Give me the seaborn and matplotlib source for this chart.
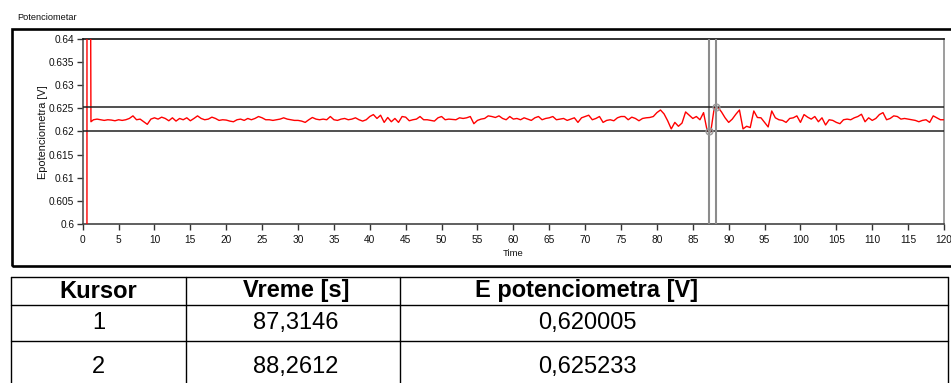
import numpy as np
import pandas as pd
import matplotlib
matplotlib.use("Agg")
import matplotlib.pyplot as plt
import seaborn as sns
from matplotlib.lines import Line2D
from matplotlib.patches import Rectangle

# ---------------- data ----------------
title = "Potenciometar"
x_label = "Time"
y_label = "Epotenciometra [V]"

# start-up transient (sensor switching on, clipped by the axis range)
startup_t = [0.55, 0.60, 1.00, 1.15]
startup_v = [0.0, 0.70, 0.70, 0.62211]

# steady-state waveform: t0, dt and sampled values [V]
wave_t0 = 1.5
wave_dt = 0.5
wave_v = [
    0.62254, 0.62268, 0.62254, 0.62240, 0.62254, 0.62247, 0.62232, 0.62254, 0.62240,
    0.62254, 0.62282, 0.62338, 0.62254, 0.62268, 0.62211, 0.62155, 0.62268, 0.62296, 0.62268,
    0.62310, 0.62282, 0.62232, 0.62296, 0.62225, 0.62282, 0.62254, 0.62296, 0.62232, 0.62282,
    0.62338, 0.62282, 0.62254, 0.62268, 0.62310, 0.62282, 0.62240, 0.62254, 0.62247, 0.62225,
    0.62211, 0.62254, 0.62268, 0.62240, 0.62282, 0.62254, 0.62282, 0.62324, 0.62296, 0.62254,
    0.62254, 0.62240, 0.62254, 0.62268, 0.62296, 0.62268, 0.62254, 0.62240, 0.62240, 0.62225,
    0.62197, 0.62254, 0.62303, 0.62268, 0.62254, 0.62268, 0.62254, 0.62324, 0.62254, 0.62240,
    0.62268, 0.62282, 0.62254, 0.62268, 0.62296, 0.62254, 0.62225, 0.62254, 0.62324, 0.62366,
    0.62282, 0.62352, 0.62197, 0.62303, 0.62211, 0.62282, 0.62197, 0.62324, 0.62310, 0.62232,
    0.62254, 0.62268, 0.62324, 0.62254, 0.62254, 0.62240, 0.62225, 0.62296, 0.62324, 0.62254,
    0.62268, 0.62261, 0.62254, 0.62296, 0.62282, 0.62296, 0.62324, 0.62169, 0.62240, 0.62268,
    0.62282, 0.62338, 0.62324, 0.62303, 0.62338, 0.62282, 0.62254, 0.62324, 0.62268, 0.62282,
    0.62254, 0.62296, 0.62268, 0.62240, 0.62296, 0.62324, 0.62254, 0.62282, 0.62296, 0.62324,
    0.62254, 0.62268, 0.62282, 0.62240, 0.62268, 0.62296, 0.62197, 0.62296, 0.62324, 0.62352,
    0.62254, 0.62282, 0.62324, 0.62197, 0.62240, 0.62254, 0.62232, 0.62296, 0.62324, 0.62324,
    0.62254, 0.62310, 0.62282, 0.62232, 0.62282, 0.62296, 0.62303, 0.62324, 0.62408, 0.62465,
    0.62380, 0.62232, 0.62056, 0.62197, 0.62113, 0.62183, 0.62423, 0.62352, 0.62282, 0.62324,
    0.62254, 0.62408, 0.62020, 0.61990, 0.62523, 0.62524, 0.62423, 0.62296, 0.62197, 0.62268,
    0.62373, 0.62465, 0.62056, 0.62113, 0.62085, 0.62444, 0.62303, 0.62296, 0.62197, 0.62099,
    0.62444, 0.62296, 0.62254, 0.62240, 0.62197, 0.62282, 0.62296, 0.62338, 0.62197, 0.62366,
    0.62310, 0.62268, 0.62324, 0.62211, 0.62296, 0.62141, 0.62254, 0.62240, 0.62197, 0.62169,
    0.62254, 0.62268, 0.62254, 0.62296, 0.62324, 0.62373, 0.62211, 0.62296, 0.62240, 0.62282,
    0.62366, 0.62408, 0.62254, 0.62282, 0.62338, 0.62324, 0.62268, 0.62282, 0.62268, 0.62254,
    0.62240, 0.62211, 0.62240, 0.62254, 0.62197, 0.62338, 0.62296, 0.62254, 0.62254,
]

x_ticks = [0, 5, 10, 15, 20, 25, 30, 35, 40, 45, 50, 55, 60, 65, 70, 75, 80, 85, 90, 95,
           100, 105, 110, 115, 120]
y_ticks = [0.6, 0.605, 0.61, 0.615, 0.62, 0.625, 0.63, 0.635, 0.64]
y_tick_labels = ["0.6", "0.605", "0.61", "0.615", "0.62", "0.625", "0.63", "0.635", "0.64"]

cursor_ids = ["1", "2"]
cursor_t = [87.3146, 88.2612]
cursor_v = [0.620005, 0.625233]
cursor_t_txt = ["87,3146", "88,2612"]
cursor_v_txt = ["0,620005", "0,625233"]
table_header = ["Kursor", "Vreme [s]", "E potenciometra [V]"]

# ---------------- figure ----------------
W, H = 951, 383
sns.set_theme(style="white")
plt.rcParams["font.family"] = ["Liberation Sans", "DejaVu Sans"]

fig = plt.figure(figsize=(W / 100, H / 100), dpi=100)
fig.patch.set_facecolor("white")


def fx(x):
    return x / W


def fy(y):
    return 1 - y / H


L, R, T, B = 82.7, 944.0, 39.0, 224.0
ax = fig.add_axes([fx(L), fy(B), fx(R) - fx(L), fy(T) - fy(B)])
ax.set_facecolor("white")

wave_t = wave_t0 + wave_dt * np.arange(len(wave_v))
df = pd.DataFrame({
    "Time": np.concatenate([startup_t, wave_t]),
    "E": np.concatenate([startup_v, wave_v]),
})
sns.lineplot(data=df, x="Time", y="E", color="#ff0000", linewidth=1.0,
             estimator=None, sort=False, ax=ax, zorder=3)

# cursors
for t, v in zip(cursor_t, cursor_v):
    ax.axvline(t, color="#8c8c8c", linewidth=1.5, zorder=4)
    ax.axhline(v, color="#202020", linewidth=1.1, zorder=4)
ax.plot(cursor_t, cursor_v, linestyle="none", marker="o", markersize=5,
        markerfacecolor="none", markeredgecolor="#9a9a9a", markeredgewidth=0.9, zorder=5)
ax.plot(cursor_t, cursor_v, linestyle="none", marker="x", markersize=3.5,
        markeredgecolor="#9a9a9a", markeredgewidth=0.9, zorder=5)

ax.set_xlim(0, 120)
ax.set_ylim(0.6, 0.64)
ax.set_xticks(x_ticks)
ax.set_xticklabels([str(v) for v in x_ticks])
ax.set_yticks(y_ticks)
ax.set_yticklabels(y_tick_labels)
ax.tick_params(axis="both", direction="out", length=4, width=1, color="#333333",
               labelsize=7.3, labelcolor="#111111", left=True, bottom=True)
ax.tick_params(axis="x", pad=4.0)
ax.tick_params(axis="y", pad=2.0)
ax.grid(False)

for side, col in [("left", "#555555"), ("bottom", "#444444"), ("top", "#111111"), ("right", "#8c8c8c")]:
    ax.spines[side].set_visible(True)
    ax.spines[side].set_color(col)
    ax.spines[side].set_linewidth(1.2)

ax.set_xlabel(x_label, fontsize=6.8, color="#111111")
ax.xaxis.set_label_coords(0.5, (B - 249.5) / (B - T))
ax.xaxis.label.set_va("top")
ax.set_ylabel(y_label, fontsize=7.9, color="#111111")
ax.yaxis.label.set_va("center")
ax.yaxis.set_label_coords((43.5 - L) / (R - L), 0.495)

fig.text(fx(17), fy(18), title, ha="left", va="center", fontsize=6.7, color="#111111")

# outer graph frame
fig.add_artist(Rectangle((fx(11.5), fy(265.5)), fx(960) - fx(11.5), fy(28.5) - fy(265.5),
                         transform=fig.transFigure, fill=False, lw=1.9, ec="black"))

# ---------------- table ----------------
col_x = [11, 186, 400, 948]
row_y = [277, 305, 341, 400]
for y in row_y[:3]:
    fig.add_artist(Line2D([fx(col_x[0]), fx(col_x[-1])], [fy(y), fy(y)],
                          transform=fig.transFigure, color="black", lw=1.0))
for x in col_x:
    fig.add_artist(Line2D([fx(x), fx(x)], [fy(row_y[0]), fy(row_y[-1])],
                          transform=fig.transFigure, color="black", lw=1.0))

col_cx = [98.5, 296, 587]
row_cy = [291, 323, 367]
for cx, txt in zip(col_cx, table_header):
    fig.text(fx(cx), fy(row_cy[0]), txt, ha="center", va="center", fontsize=17,
             fontweight="bold", color="black")
for i in range(len(cursor_ids)):
    vals = [cursor_ids[i], cursor_t_txt[i], cursor_v_txt[i]]
    for cx, txt in zip(col_cx, vals):
        fig.text(fx(cx), fy(row_cy[i + 1]), txt, ha="center", va="center", fontsize=17,
                 color="black")

fig.savefig("out.png", dpi=100, facecolor="white")
